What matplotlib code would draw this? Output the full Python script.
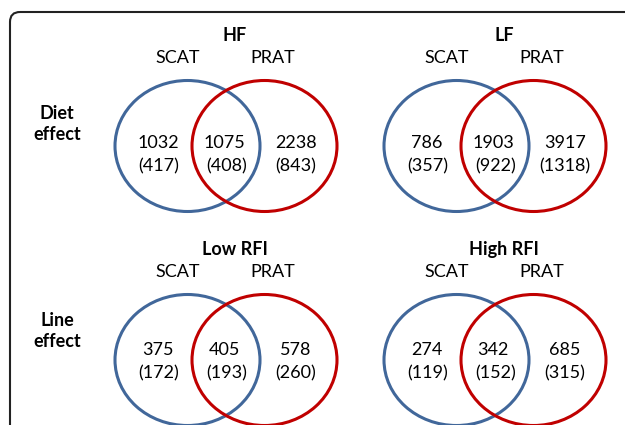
import matplotlib
matplotlib.use("Agg")
from matplotlib import pyplot as plt
from matplotlib.patches import Ellipse, FancyBboxPatch

# data for the four venn panels (counts, with counts in brackets below)
titles = ["HF", "LF", "Low RFI", "High RFI"]
row_labels = ["Diet\neffect", "Line\neffect"]
scat_only = [1032, 786, 375, 274]
shared = [1075, 1903, 405, 342]
prat_only = [2238, 3917, 578, 685]
scat_only_sub = [417, 357, 172, 119]
shared_sub = [408, 922, 193, 152]
prat_only_sub = [843, 1318, 260, 315]

blue = "#41679a"
red = "#c00000"
fs = 13

plt.rcParams['font.family'] = ['Lato', 'DejaVu Sans']

fig = plt.figure(figsize=(6.25, 4.25), dpi=100)
ax = fig.add_axes([0, 0, 1, 1])
ax.set_xlim(0, 625)
ax.set_ylim(425, 0)
ax.axis("off")

# frame with rounded corner, runs off the right and bottom
frame = FancyBboxPatch((10, 12), 640, 440, boxstyle="round,pad=0,rounding_size=10",
                       fill=False, ec="#222222", lw=1.5)
ax.add_patch(frame)

# panel centres (centre of the venn pair), row y
panel_x = [226, 495, 226, 495]
panel_y = [146, 146, 360, 360]
w, h = 145, 131
off = 38.5

for i in range(4):
    cx, cy = panel_x[i], panel_y[i]
    ax.add_patch(Ellipse((cx - off, cy), w, h, fill=False, ec=blue, lw=2.2))
    ax.add_patch(Ellipse((cx + off, cy), w, h, fill=False, ec=red, lw=2.2))
    ty = cy - 111
    ax.text(cx + 9, ty, titles[i], ha="center", va="center", fontsize=fs, fontweight="bold")
    ax.text(cx - 48, ty + 23, "SCAT", ha="center", va="center", fontsize=fs)
    ax.text(cx + 47, ty + 23, "PRAT", ha="center", va="center", fontsize=fs)
    ny = cy - 3 if i < 2 else cy - 10
    ax.text(cx - 68, ny, str(scat_only[i]), ha="center", va="center", fontsize=fs)
    ax.text(cx - 67, ny + 23, "(%d)" % scat_only_sub[i], ha="center", va="center", fontsize=fs)
    ax.text(cx - 2, ny, str(shared[i]), ha="center", va="center", fontsize=fs)
    ax.text(cx + 1, ny + 23, "(%d)" % shared_sub[i], ha="center", va="center", fontsize=fs)
    ax.text(cx + 70, ny, str(prat_only[i]), ha="center", va="center", fontsize=fs)
    ax.text(cx + 70, ny + 23, "(%d)" % prat_only_sub[i], ha="center", va="center", fontsize=fs)

ax.text(57, 124, row_labels[0], ha="center", va="center", fontsize=fs,
        fontweight="bold", linespacing=1.3)
ax.text(57, 331, row_labels[1], ha="center", va="center", fontsize=fs,
        fontweight="bold", linespacing=1.3)

plt.savefig("out.png", dpi=100)
